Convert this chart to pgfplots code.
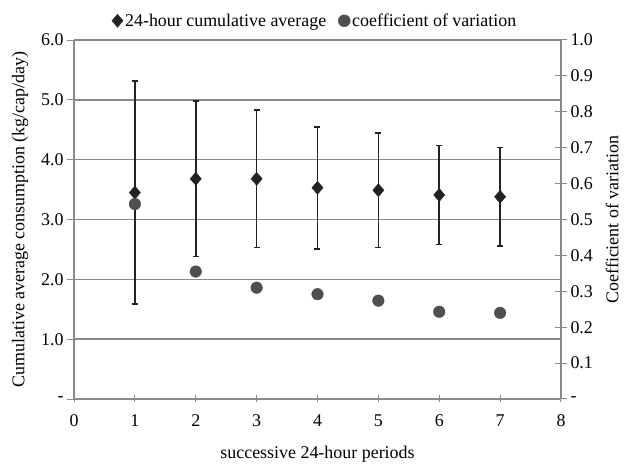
\documentclass[border=0pt]{standalone}
\usepackage{pgfplots}
\pgfplotsset{compat=1.18}
\usepackage{fontspec}
\setmainfont{Liberation Serif}
\newcommand\f{\fontsize{18}{21}\selectfont}
\definecolor{gridc}{HTML}{8A8A8A}
\definecolor{dia}{HTML}{222222}
\definecolor{circ}{HTML}{4F4F4F}
\begin{document}
\begin{tikzpicture}
\begin{axis}[
  name=main,
  at={(0,0)}, anchor=south west,
  scale only axis, width=487bp, height=359bp,
  xmin=0, xmax=8, ymin=0, ymax=6,
  axis x line*=bottom, axis y line*=left,
  axis line style={gridc, line width=1.3pt},
  xtick={0,1,2,3,4,5,6,7,8},
  xticklabels={0,1,2,3,4,5,6,7,8},
  ytick={0,1,2,3,4,5,6},
  yticklabels={-,1.0,2.0,3.0,4.0,5.0,6.0},
  x tick style={gridc, line width=1pt},
  y tick style={gridc, line width=1pt},
  xtick align=center, ytick align=outside,
  major tick length=7bp,
  ymajorgrids, grid style={gridc, line width=1.5pt},
  tick label style={font=\f},
  xticklabel style={yshift=-9bp},
  label style={font=\f},
  xlabel={successive 24-hour periods},
  ylabel={Cumulative average consumption (kg/cap/day)},
  xlabel style={yshift=-12bp},
  ylabel style={yshift=6bp},
  legend style={draw=none, fill=none, font=\f, at={(0.495,1.025)}, anchor=south,
    legend columns=2, /tikz/every even column/.append style={column sep=10bp},
    inner sep=1bp},
  legend image code/.code={\draw[#1] (0bp,0bp) plot coordinates {(0bp,0bp)};},
  clip=false,
]
\addplot+[only marks, mark=diamond*, mark size=6.5bp, color=dia,
  mark options={fill=dia, draw=dia, xscale=1.15},
  error bars/.cd, y dir=both, y explicit,
  error bar style={color=dia, line width=1.6pt},
  error mark options={rotate=90, mark size=3bp, line width=1.6pt, color=dia}]
  table[x=x, y=y, y error=e] {
  x y e
  1 3.45 1.86
  2 3.68 1.30
  3 3.68 1.15
  4 3.53 1.02
  5 3.49 0.96
  6 3.41 0.83
  7 3.38 0.82
  };
\addlegendentry{24-hour cumulative average}
\addlegendimage{only marks, mark=*, mark size=6bp, color=circ, mark options={fill=circ, draw=circ}}
\addlegendentry{coefficient of variation}
\end{axis}
\begin{axis}[
  at={(0,0)}, anchor=south west,
  scale only axis, width=487bp, height=359bp,
  xmin=0, xmax=8, ymin=0, ymax=1,
  axis x line=none, axis y line*=right,
  axis line style={gridc, line width=1.3pt},
  ytick={0,0.1,0.2,0.3,0.4,0.5,0.6,0.7,0.8,0.9,1.0},
  yticklabels={-,0.1,0.2,0.3,0.4,0.5,0.6,0.7,0.8,0.9,1.0},
  y tick style={gridc, line width=1pt},
  ytick align=center, major tick length=12bp,
  tick label style={font=\f},
  label style={font=\f},
  ylabel={Coefficient of variation},
  ylabel style={yshift=-6bp},
  clip=false,
]
\addplot+[only marks, mark=*, mark size=5.8bp, color=circ,
  mark options={fill=circ, draw=circ}]
  coordinates {(1,0.543) (2,0.355) (3,0.310) (4,0.292) (5,0.274) (6,0.243) (7,0.240)};
\end{axis}
\path (-74bp,-59bp) rectangle (554bp,399bp);
\end{tikzpicture}
\end{document}
